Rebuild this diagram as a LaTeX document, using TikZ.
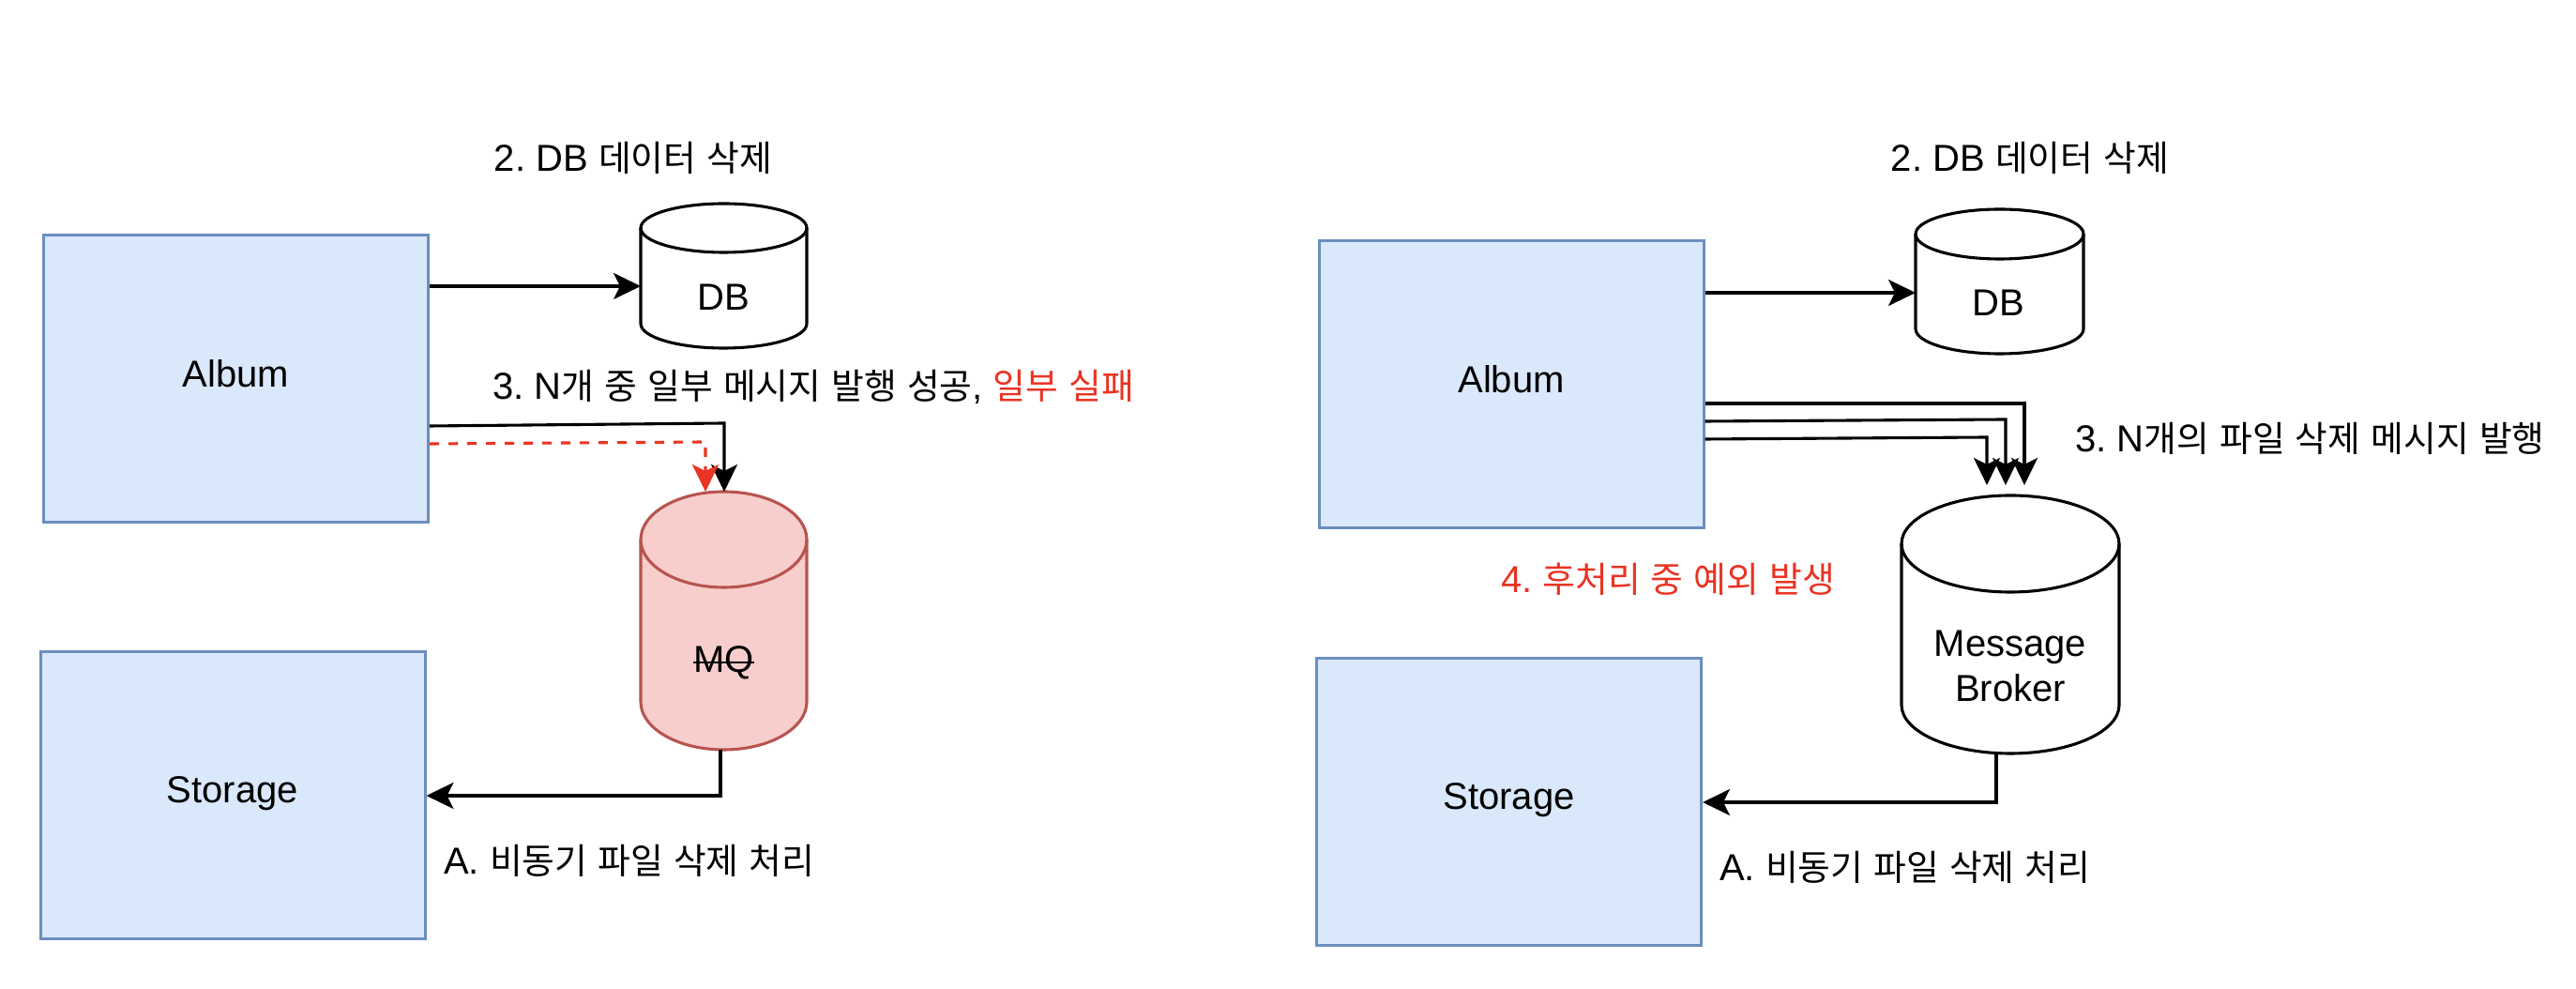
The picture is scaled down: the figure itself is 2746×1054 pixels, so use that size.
\documentclass[tikz,border=0pt]{standalone}
\usepackage{fontspec}
\setmainfont{Liberation Sans}
\newfontfamily\kr{Noto Sans CJK KR}[Scale=0.945]
\usetikzlibrary{arrows.meta}
\definecolor{boxfill}{HTML}{DAE8FC}
\definecolor{boxline}{HTML}{6C8EBF}
\definecolor{mqfill}{HTML}{F8CECC}
\definecolor{mqline}{HTML}{B85450}
\definecolor{errred}{RGB}{234,51,35}
\newcommand\K[1]{{\kr #1}}
\frenchspacing
\begin{document}
\begin{tikzpicture}[x=1pt,y=1pt,
  font=\fontsize{40}{48}\selectfont\frenchspacing,
  service/.style={draw=boxline, fill=boxfill, line width=3pt, minimum width=410pt, minimum height=306pt, inner sep=0pt, text depth=12pt},
  cylbody/.style={line width=3.1pt, draw=black, fill=white},
  slot/.style={inner sep=0pt, outer sep=0pt},
  conn/.style={line width=3.1pt, -{Stealth[length=29pt,width=28pt,inset=7pt]}},
  lbl/.style={inner sep=0pt}
]
\fill[white] (0,0) rectangle (2746,1054);
\useasboundingbox (0,0) rectangle (2746,1054);

% boxes
\node[service] (albL) at (251.5,650) {Album};
\node[service] (stoL) at (248,206) {Storage};
\node[service] (albR) at (1611,644) {Album};
\node[service] (stoR) at (1608.5,199) {Storage};

% cylinders: DB left
\path[cylbody] (683,811) -- (683,709) arc[start angle=180,end angle=360,x radius=88.5pt,y radius=26pt] -- (860,811) arc[start angle=0,end angle=180,x radius=88.5pt,y radius=26pt] -- cycle;
\draw[line width=3.1pt] (683,811) arc[start angle=180,end angle=360,x radius=88.5pt,y radius=26pt];
\node[slot, minimum width=177pt, minimum height=154pt] (dbL) at (771.5,760) {};
\node[lbl] (dbLt) at (771.5,737) {DB};

% DB right
\path[cylbody] (2042,804.5) -- (2042,703.5) arc[start angle=180,end angle=360,x radius=89.5pt,y radius=26.5pt] -- (2221,804.5) arc[start angle=0,end angle=180,x radius=89.5pt,y radius=26.5pt] -- cycle;
\draw[line width=3.1pt] (2042,804.5) arc[start angle=180,end angle=360,x radius=89.5pt,y radius=26.5pt];
\node[slot, minimum width=179pt, minimum height=154pt] (dbR) at (2131.5,754) {};
\node[lbl] (dbRt) at (2130,731) {DB};

% MQ
\path[cylbody, draw=mqline, fill=mqfill] (683,479) -- (683,306) arc[start angle=180,end angle=360,x radius=88.5pt,y radius=51pt] -- (860,479) arc[start angle=0,end angle=180,x radius=88.5pt,y radius=51pt] -- cycle;
\draw[line width=3.1pt, mqline] (683,479) arc[start angle=180,end angle=360,x radius=88.5pt,y radius=51pt];
\node[slot, minimum width=177pt, minimum height=275pt] (mq) at (771.5,392.5) {};
\node[lbl] (mqt) at (771.5,348) {MQ};
\draw[line width=2.6pt] (mqt.west) -- (mqt.east);

% Message Broker
\path[cylbody] (2027,474.5) -- (2027,302.5) arc[start angle=180,end angle=360,x radius=116pt,y radius=51.5pt] -- (2259,474.5) arc[start angle=0,end angle=180,x radius=116pt,y radius=51.5pt] -- cycle;
\draw[line width=3.1pt] (2027,474.5) arc[start angle=180,end angle=360,x radius=116pt,y radius=51.5pt];
\node[slot, minimum width=232pt, minimum height=275pt] (mb) at (2143,388.5) {};
\node[lbl, align=center] (mbt) at (2143,344) {Message\\Broker};
\coordinate (mbin) at (2143,537);

% left connectors
\draw[conn] (albL.east |- 0,749) -- (dbL.west |- 0,749);
\draw[conn] (albL.east |- 0,600) -- (772,603) -- (mq.north -| 772,0);
\draw[conn, errred, dash pattern=on 10pt off 10pt] (albL.east |- 0,581) -- (752,583) -- (mq.north -| 752,0);
\draw[conn] (mq.south -| 768,0) -- (768,206) -- (stoL.east);

% right connectors
\draw[conn] (albR.east |- 0,742) -- (dbR.west |- 0,742);
\draw[conn] (albR.east |- 0,624) -- (2158,624) -- (mbin -| 2158,0);
\draw[conn] (albR.east |- 0,605) -- (2138,607) -- (mbin -| 2138,0);
\draw[conn] (albR.east |- 0,586) -- (2118,588) -- (mbin -| 2118,0);
\draw[conn] (mb.south -| 2128,0) -- (2128,199) -- (stoR.east);

% labels
\node[lbl] (t2L) at (675,886) {2. DB \K{데이터} \K{삭제}};
\node[lbl, anchor=west] (t3L) at (525,642) {3. N\K{개} \K{중} \K{일부} \K{메시지} \K{발행} \K{성공}, \textcolor{errred}{\K{일부} \K{실패}}};
\node[lbl, anchor=west] (tAL) at (473,137) {A. \K{비동기} \K{파일} \K{삭제} \K{처리}};
\node[lbl] (t2R) at (2164,886) {2. DB \K{데이터} \K{삭제}};
\node[lbl, anchor=west] (t3R) at (2212,587) {3. N\K{개의} \K{파일} \K{삭제} \K{메시지} \K{발행}};
\node[lbl, text=errred] (t4R) at (1778,437) {4. \K{후처리} \K{중} \K{예외} \K{발생}};
\node[lbl, anchor=west] (tAR) at (1833,130) {A. \K{비동기} \K{파일} \K{삭제} \K{처리}};
\end{tikzpicture}
\end{document}
